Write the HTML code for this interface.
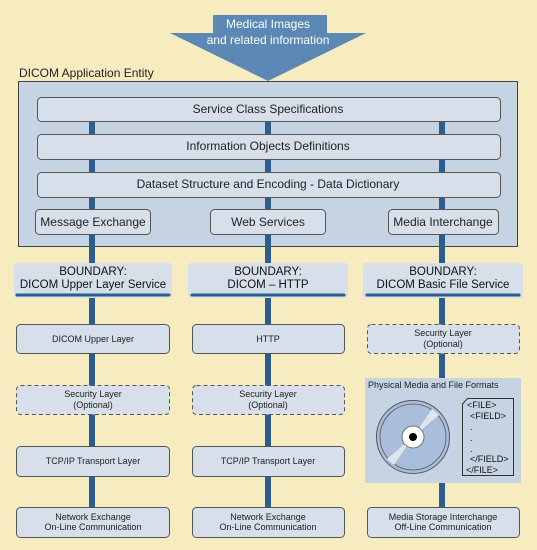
<!DOCTYPE html>
<html><head><meta charset="utf-8"><style>
html,body{margin:0;padding:0;background:#f7ecbf;}
svg{display:block;font-family:"Liberation Sans",Arial,sans-serif;}
</style></head><body>
<svg width="537" height="550" viewBox="0 0 537 550" xmlns="http://www.w3.org/2000/svg">
<rect x="0" y="0" width="537" height="550" fill="#f7ecbf"/>
<!-- connectors -->
<g fill="#2b5e8e">
<rect x="89" y="121" width="6" height="142"/>
<rect x="265" y="121" width="6" height="142"/>
<rect x="439" y="121" width="6" height="142"/>
<rect x="89" y="297" width="6" height="212"/>
<rect x="265" y="297" width="6" height="212"/>
<rect x="439" y="297" width="6" height="212"/>
</g>
<!-- big box -->
<rect x="18.5" y="81.5" width="499" height="165" fill="#c5d3e3" stroke="#444" stroke-width="1"/>
<g fill="#2b5e8e">
<rect x="89" y="121" width="6" height="88"/>
<rect x="265" y="121" width="6" height="88"/>
<rect x="439" y="121" width="6" height="88"/>
<rect x="89" y="234" width="6" height="29"/>
<rect x="265" y="234" width="6" height="29"/>
<rect x="439" y="234" width="6" height="29"/>
</g>
<text x="19" y="77" font-size="12" fill="#222">DICOM Application Entity</text>
<!-- arrow -->
<polygon points="213,15 327,15 327,33 366,33 268,81 170,33 213,33" fill="#5b88b5"/>
<text x="268" y="28" font-size="12" fill="#fff" text-anchor="middle">Medical Images</text>
<text x="268" y="44" font-size="12" fill="#fff" text-anchor="middle">and related information</text>
<g fill="#d6dfea" stroke="#555" stroke-width="1">
<rect x="37.5" y="97.5" width="463" height="24" rx="4"/>
<rect x="37.5" y="134.5" width="463" height="25" rx="4"/>
<rect x="37.5" y="172.5" width="463" height="25" rx="4"/>
<rect x="35.5" y="209.5" width="115" height="25" rx="4"/>
<rect x="210.5" y="209.5" width="115" height="25" rx="4"/>
<rect x="388.5" y="209.5" width="110" height="25" rx="4"/>
</g>
<g font-size="12" fill="#222" text-anchor="middle">
<text x="268" y="113">Service Class Specifications</text>
<text x="268" y="150">Information Objects Definitions</text>
<text x="268" y="188">Dataset Structure and Encoding - Data Dictionary</text>
<text x="93" y="226">Message Exchange</text>
<text x="268" y="226">Web Services</text>
<text x="443" y="226">Media Interchange</text>
</g>
<!-- boundaries -->
<g fill="#d6dfea">
<rect x="14" y="263" width="158" height="35" rx="3"/>
<rect x="188" y="263" width="160" height="35" rx="3"/>
<rect x="363" y="263" width="160" height="35" rx="3"/>
</g>
<g stroke="#2b5e8e" stroke-width="3" stroke-linecap="round">
<line x1="17" y1="295" x2="169" y2="295"/>
<line x1="192" y1="295" x2="344" y2="295"/>
<line x1="367" y1="295" x2="519" y2="295"/>
</g>
<g font-size="11.5" fill="#111" text-anchor="middle">
<text x="93" y="275">BOUNDARY:</text><text x="93" y="288">DICOM Upper Layer Service</text>
<text x="268" y="275">BOUNDARY:</text><text x="268" y="288">DICOM – HTTP</text>
<text x="443" y="275">BOUNDARY:</text><text x="443" y="288">DICOM Basic File Service</text>
</g>
<!-- lower boxes -->
<g fill="#d6dfea" stroke="#555" stroke-width="1">
<rect x="16.5" y="324.5" width="153" height="29" rx="4"/>
<rect x="192.5" y="324.5" width="152" height="29" rx="4"/>
<rect x="16.5" y="446.5" width="153" height="30" rx="4"/>
<rect x="192.5" y="446.5" width="152" height="30" rx="4"/>
<rect x="16.5" y="507.5" width="153" height="30" rx="4"/>
<rect x="192.5" y="507.5" width="152" height="30" rx="4"/>
<rect x="367.5" y="507.5" width="152" height="30" rx="4"/>
</g>
<g fill="#d6dfea" stroke="#555" stroke-width="1" stroke-dasharray="4,3">
<rect x="16.5" y="385.5" width="153" height="29" rx="4"/>
<rect x="192.5" y="385.5" width="152" height="29" rx="4"/>
<rect x="367.5" y="324.5" width="152" height="29" rx="4"/>
</g>
<g font-size="9" fill="#222" text-anchor="middle">
<text x="93" y="342">DICOM Upper Layer</text>
<text x="268" y="342">HTTP</text>
<text x="93" y="397">Security Layer</text><text x="93" y="408">(Optional)</text>
<text x="268" y="397">Security Layer</text><text x="268" y="408">(Optional)</text>
<text x="443" y="336">Security Layer</text><text x="443" y="347">(Optional)</text>
<text x="93" y="464">TCP/IP Transport Layer</text>
<text x="268" y="464">TCP/IP Transport Layer</text>
<text x="93" y="520">Network Exchange</text><text x="93" y="530">On-Line Communication</text>
<text x="268" y="520">Network Exchange</text><text x="268" y="530">On-Line Communication</text>
<text x="443" y="520">Media Storage Interchange</text><text x="443" y="530">Off-Line Communication</text>
</g>
<!-- physical media -->
<rect x="365" y="378" width="156" height="105" fill="#c5d3e3"/>
<text x="368" y="388" font-size="9" fill="#222">Physical Media and File Formats</text>
<circle cx="413" cy="437" r="36.5" fill="#a9bedb" stroke="#555" stroke-width="1"/>
<circle cx="413" cy="437" r="33" fill="#a9bedb" stroke="#555" stroke-width="0.8"/>
<polygon points="413,437 432,409 439,415" fill="#dfe5ec"/>
<polygon points="413,437 387,459 394,465" fill="#dfe5ec"/>
<circle cx="413" cy="437" r="11" fill="#fff" stroke="#555" stroke-width="0.8"/>
<circle cx="413" cy="437" r="4" fill="#000"/>
<polygon points="467.5,398.5 513.5,398.5 513.5,475.5 462.5,475.5 462.5,404" fill="#c5d3e3" stroke="#333" stroke-width="1"/>
<g font-size="9" fill="#111">
<text x="467" y="408">&lt;FILE&gt;</text>
<text x="470" y="419">&lt;FIELD&gt;</text>
<text x="470" y="430">.</text>
<text x="470" y="441">.</text>
<text x="470" y="452">.</text>
<text x="470" y="462">&lt;/FIELD&gt;</text>
<text x="466" y="473">&lt;/FILE&gt;</text>
</g>
</svg>
</body></html>
